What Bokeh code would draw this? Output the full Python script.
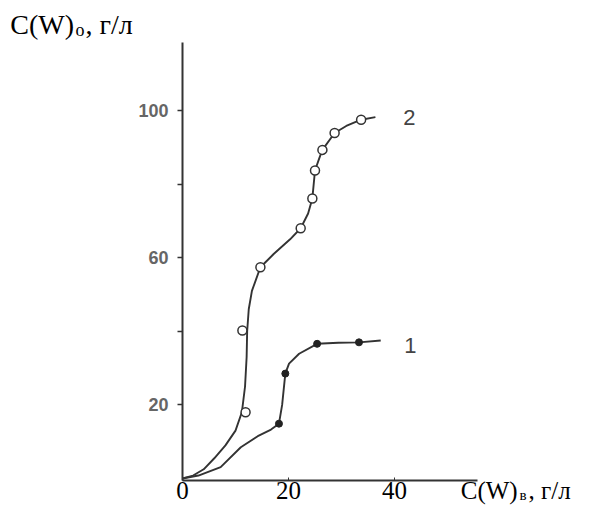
from bokeh.plotting import figure
from bokeh.models import LinearAxis, FixedTicker, Label, Range1d
from bokeh.embed import file_html
from bokeh.resources import INLINE

# ---- data ----
# curve 2 (open circles)
c2_line_x = [0, 2, 4, 6, 8.1, 10, 11.2, 11.8, 12.1, 12.2, 12.5, 13.1, 14.7, 17.2, 20.3, 22.3, 23.7, 24.5, 25.0, 25.8, 26.4, 28.7, 30.9, 33.7, 36.4]
c2_line_y = [0, 0.8, 2.5, 5.5, 9, 13, 18, 25, 33, 40, 46, 51, 57.4, 61, 65, 68, 72, 76.1, 83.7, 87, 89.3, 93.9, 95.8, 97.5, 98.2]
c2_pts_x = [11.9, 11.3, 14.7, 22.3, 24.5, 25.0, 26.4, 28.7, 33.7]
c2_pts_y = [18.0, 40.2, 57.4, 68.0, 76.1, 83.7, 89.3, 93.9, 97.5]

# curve 1 (filled circles)
c1_line_x = [0, 3, 7.2, 11.0, 14.2, 16.7, 18.2, 18.8, 19.4, 20.1, 22.0, 25.4, 29.4, 33.3, 37.4]
c1_line_y = [0, 0.8, 3.1, 8.5, 11.5, 13.3, 14.9, 20, 28.5, 31.2, 33.9, 36.6, 36.9, 37.0, 37.5]
c1_pts_x = [18.2, 19.4, 25.4, 33.3]
c1_pts_y = [14.9, 28.5, 36.6, 37.0]

x_ticks = [0, 20, 40]
y_ticks = [20, 40, 60, 80, 100]
y_tick_labels = {20: "20", 40: "", 60: "60", 80: "", 100: "100"}

W, H = 580, 506
X0_PX, Y0_PX = 182, 478        # where (0, 0) sits on the canvas
XS, YS = 5.3, 3.68              # pixels per unit
x_start = -X0_PX / XS
y_start = -(H - Y0_PX) / YS
x_axis_at = -2 / YS

p = figure(width=W, height=H, output_backend="svg", toolbar_location=None,
           x_axis_type=None, y_axis_type=None,
           x_range=Range1d(x_start, x_start + W / XS),
           y_range=Range1d(y_start, y_start + H / YS),
           min_border=0, min_border_left=0, min_border_right=0,
           min_border_top=0, min_border_bottom=0)
p.outline_line_color = None
p.grid.visible = False
p.background_fill_color = "white"
p.border_fill_color = "white"

ax_col = "#333333"
xaxis = LinearAxis(ticker=FixedTicker(ticks=x_ticks), bounds=(0, 55.7),
                   fixed_location=x_axis_at)
xaxis.axis_line_width = 2
xaxis.axis_line_color = ax_col
xaxis.major_tick_in = 3
xaxis.major_tick_out = 0
xaxis.major_tick_line_color = ax_col
xaxis.minor_tick_line_color = None
xaxis.major_label_text_font = "Liberation Serif"
xaxis.major_label_text_font_size = "25px"
xaxis.major_label_text_color = "black"
xaxis.major_label_standoff = 1
p.add_layout(xaxis, "below")

yaxis = LinearAxis(ticker=FixedTicker(ticks=y_ticks), bounds=(x_axis_at, 118.5),
                   major_label_overrides=y_tick_labels, fixed_location=0)
yaxis.axis_line_width = 2
yaxis.axis_line_color = ax_col
yaxis.major_tick_in = 0
yaxis.major_tick_out = 5
yaxis.major_tick_line_width = 1.5
yaxis.major_tick_line_color = ax_col
yaxis.minor_tick_line_color = None
yaxis.major_label_text_font = "Liberation Sans"
yaxis.major_label_text_font_style = "bold"
yaxis.major_label_text_font_size = "18px"
yaxis.major_label_text_color = "#666666"
yaxis.major_label_standoff = 9
p.add_layout(yaxis, "left")

line_col = "#333333"
p.line(c2_line_x, c2_line_y, line_width=1.9, line_color=line_col)
p.line(c1_line_x, c1_line_y, line_width=1.9, line_color=line_col)
p.scatter(c2_pts_x, c2_pts_y, marker="circle", size=9, fill_color="white",
          line_color=line_col, line_width=1.5)
p.scatter(c1_pts_x, c1_pts_y, marker="circle", size=7, fill_color="#222222",
          line_color="#222222", line_width=1)

# curve labels
p.add_layout(Label(x=42.8, y=98.1, text="2", text_font="Liberation Sans", text_font_size="22px",
                   text_color="#444444", text_align="center", text_baseline="middle"))
p.add_layout(Label(x=43.0, y=36.1, text="1", text_font="Liberation Sans", text_font_size="22px",
                   text_color="#444444", text_align="center", text_baseline="middle"))

# axis titles
def title_parts(x_main, y_mid, x_sub, y_sub, x_rest, sub, size, sub_size):
    p.add_layout(Label(x=x_main, y=y_mid, text="C(W)", text_font="Liberation Serif",
                       text_font_size=size, text_color="black", text_baseline="middle"))
    p.add_layout(Label(x=x_sub, y=y_sub, text=sub, text_font="Liberation Serif",
                       text_font_size=sub_size, text_color="black", text_baseline="middle"))
    p.add_layout(Label(x=x_rest, y=y_mid, text=", г/л", text_font="Liberation Serif",
                       text_font_size=size, text_color="black", text_baseline="middle"))

title_parts(-32.5, 123.4, -20.2, 121.9, -18.3, "о", "28px", "18px")
title_parts(52.5, -3.3, 63.6, -4.6, 65.3, "в", "25px", "15px")

open("out.html", "w").write(file_html(p, INLINE))
